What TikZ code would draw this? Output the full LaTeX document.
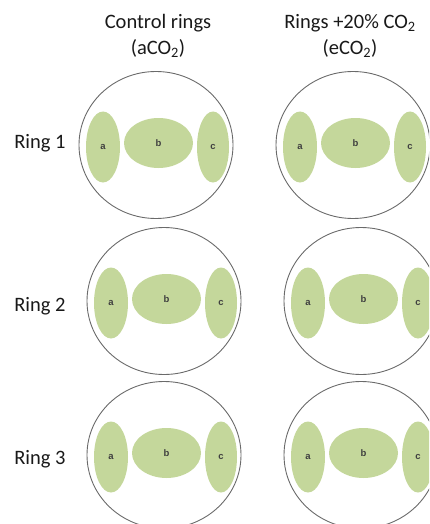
\documentclass[tikz,border=0pt]{standalone}
\usepackage{fontspec}
\setmainfont{Carlito}
\newfontfamily\lblfont{Liberation Sans}
\usetikzlibrary{shapes.geometric}
\definecolor{plotgreen}{HTML}{C4D79B}
\definecolor{ringgray}{HTML}{6A6A6A}
\tikzset{
  ringshape/.style={ellipse, draw=ringgray, line width=0.9pt, minimum width=154pt, minimum height=147pt, inner sep=0pt},
  tallplot/.style={ellipse, fill=plotgreen, minimum width=34pt, minimum height=71pt, inner sep=0pt, font=\lblfont\bfseries\fontsize{9.5}{10}\selectfont, text=black!75},
  wideplot/.style={ellipse, fill=plotgreen, minimum width=69pt, minimum height=50pt, inner sep=0pt, font=\lblfont\bfseries\fontsize{9.5}{10}\selectfont, text=black!75},
  title/.style={font=\fontsize{20.5}{26}\selectfont, align=center, text=black!90},
  rowlabel/.style={font=\fontsize{20.5}{24}\selectfont, text=black!90}
}
\begin{document}
\begin{tikzpicture}[x=1pt,y=-1pt]
\useasboundingbox (0,0) rectangle (429,524);
\clip (0,0) rectangle (429,524);
\node[title] (t1) at (158,36) {Control rings\\(aCO\textsubscript{2})};
\node[title] (t2) at (350,36) {Rings +20\% CO\textsubscript{2}\\(eCO\textsubscript{2})};
\node[rowlabel] (l1) at (40,143) {Ring 1};
\node[rowlabel] (l2) at (40,306) {Ring 2};
\node[rowlabel] (l3) at (40,459) {Ring 3};
\foreach \r/\cx/\cy in {1/156/145, 2/164/301, 3/164/455}{
  \foreach \side/\dx in {L/0, R/197}{
    \node[ringshape] (ring\r\side) at (\cx+\dx,\cy) {};
    \node[tallplot] (p\r\side a) at (\cx+\dx-53,\cy+2) {a};
    \node[wideplot] (p\r\side b) at (\cx+\dx+2.5,\cy-2) {b};
    \node[tallplot, minimum width=32pt] (p\r\side c) at (\cx+\dx+57,\cy+2) {c};
  }
}
\end{tikzpicture}
\end{document}
